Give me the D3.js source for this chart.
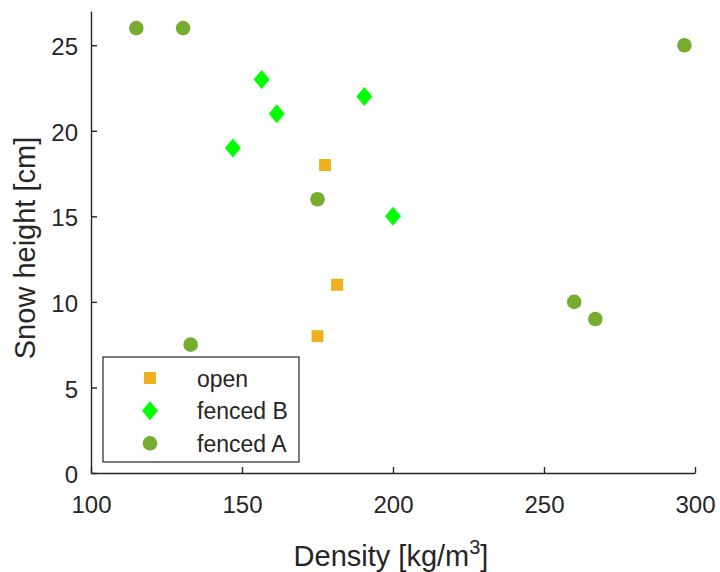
<!DOCTYPE html>
<html>
<head>
<meta charset="utf-8">
<script src="https://cdn.jsdelivr.net/npm/d3@7"></script>
<style>
  html, body { margin: 0; padding: 0; background: #fff; }
  svg { display: block; font-family: "Liberation Sans", Arial, sans-serif; }
</style>
</head>
<body>
<svg id="chart" width="720" height="572"></svg>
<script>
// ---- data ----
const seriesNames = ["open", "fenced B", "fenced A"];
const openDensity = [177.5, 181.5, 175];
const openHeight = [18, 11, 8];
const fencedBDensity = [156.5, 161.5, 147, 190.5, 200];
const fencedBHeight = [23, 21, 19, 22, 15];
const fencedADensity = [115, 130.5, 296.5, 175, 260, 267, 133];
const fencedAHeight = [26, 26, 25, 16, 10, 9, 7.5];
const xTicks = [100, 150, 200, 250, 300];
const yTicks = [0, 5, 10, 15, 20, 25];
const xDomain = [100, 300];
const yDomain = [0, 27];

const colors = { "open": "#EDB120", "fenced B": "#00FF00", "fenced A": "#77AC30" };
const shapes = { "open": "square", "fenced B": "diamond", "fenced A": "circle" };

const series = [
  { name: "open", xs: openDensity, ys: openHeight },
  { name: "fenced B", xs: fencedBDensity, ys: fencedBHeight },
  { name: "fenced A", xs: fencedADensity, ys: fencedAHeight }
];

const svg = d3.select("#chart");
const mLeft = 91, mRight = 695, mTop = 11, mBottom = 473;
const x = d3.scaleLinear().domain(xDomain).range([mLeft, mRight]);
const y = d3.scaleLinear().domain(yDomain).range([mBottom, mTop]);
const axisColor = "#262626";

function markerPath(shape) {
  if (shape === "square") return d3.symbol().type(d3.symbolSquare).size(144)();
  if (shape === "circle") return d3.symbol().type(d3.symbolCircle).size(Math.PI * 7.3 * 7.3)();
  return "M0,-9.5L8,0L0,9.5L-8,0Z";
}

const xAxis = d3.axisBottom(x).tickValues(xTicks).tickSizeInner(-6).tickSizeOuter(0).tickPadding(23);
const yAxis = d3.axisLeft(y).tickValues(yTicks).tickSizeInner(-6).tickSizeOuter(0).tickPadding(13);

const gx = svg.append("g").attr("transform", `translate(0,${mBottom})`).call(xAxis);
const gy = svg.append("g").attr("transform", `translate(${mLeft},0)`).call(yAxis);
[gx, gy].forEach(g => {
  g.select(".domain").attr("stroke", axisColor).attr("stroke-width", 1.4);
  g.selectAll(".tick line").attr("stroke", axisColor).attr("stroke-width", 1.4);
  g.selectAll(".tick text").attr("fill", axisColor).style("font-size", "24px")
    .style("font-family", "'Liberation Sans', Arial, sans-serif");
});
gx.selectAll(".tick text").attr("dy", "0.71em");
gy.selectAll(".tick text").attr("dy", "0.4em");

const xl = svg.append("text")
  .attr("x", (mLeft + mRight) / 2 - 2).attr("y", 566)
  .attr("text-anchor", "middle").attr("fill", axisColor)
  .style("font-size", "29px");
xl.append("tspan").text("Density [kg/m");
xl.append("tspan").text("3").style("font-size", "20px").attr("dy", "-12");
xl.append("tspan").text("]").attr("dy", "12");

svg.append("text")
  .attr("transform", `translate(35,${(mTop + mBottom) / 2 + 6}) rotate(-90)`)
  .attr("text-anchor", "middle").attr("fill", axisColor)
  .style("font-size", "29px")
  .text("Snow height [cm]");

series.forEach(s => {
  svg.append("g").selectAll("path")
    .data(s.xs.map((d, i) => [d, s.ys[i]]))
    .join("path")
    .attr("d", markerPath(shapes[s.name]))
    .attr("transform", d => `translate(${x(d[0])},${y(d[1])})`)
    .attr("fill", colors[s.name]);
});

const lg = svg.append("g");
lg.append("rect").attr("x", 103).attr("y", 357).attr("width", 196).attr("height", 105)
  .attr("fill", "#fff").attr("stroke", axisColor).attr("stroke-width", 1.2);
seriesNames.forEach((n, i) => {
  const cy = 378 + i * 32.7;
  lg.append("path").attr("d", markerPath(shapes[n]))
    .attr("transform", `translate(150,${cy})`).attr("fill", colors[n]);
  lg.append("text").attr("x", 197).attr("y", cy).attr("dy", "0.37em")
    .attr("fill", axisColor).style("font-size", "23px").text(n);
});
</script>
</body>
</html>
